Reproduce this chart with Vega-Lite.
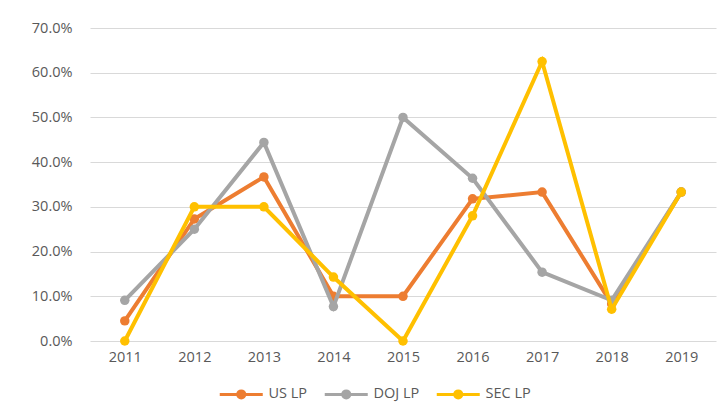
{
  "$schema": "https://vega.github.io/schema/vega-lite/v6.json",
  "autosize": "none",
  "width": 626,
  "height": 313,
  "padding": {"left": 90, "top": 28, "right": 10, "bottom": 73},
  "background": "white",
  "config": {
    "view": {"stroke": null},
    "font": "Open Sans",
    "axis": {"labelColor": "#595959", "labelFontSize": 14.5, "domain": false, "ticks": false, "title": null}
  },
  "data": {"values": [
    {"year": "2011", "series": "US LP", "v": 0.045},
    {"year": "2012", "series": "US LP", "v": 0.273},
    {"year": "2013", "series": "US LP", "v": 0.367},
    {"year": "2014", "series": "US LP", "v": 0.10},
    {"year": "2015", "series": "US LP", "v": 0.10},
    {"year": "2016", "series": "US LP", "v": 0.318},
    {"year": "2017", "series": "US LP", "v": 0.333},
    {"year": "2018", "series": "US LP", "v": 0.083},
    {"year": "2019", "series": "US LP", "v": 0.333},
    {"year": "2011", "series": "DOJ LP", "v": 0.091},
    {"year": "2012", "series": "DOJ LP", "v": 0.25},
    {"year": "2013", "series": "DOJ LP", "v": 0.444},
    {"year": "2014", "series": "DOJ LP", "v": 0.077},
    {"year": "2015", "series": "DOJ LP", "v": 0.50},
    {"year": "2016", "series": "DOJ LP", "v": 0.364},
    {"year": "2017", "series": "DOJ LP", "v": 0.154},
    {"year": "2018", "series": "DOJ LP", "v": 0.091},
    {"year": "2019", "series": "DOJ LP", "v": 0.333},
    {"year": "2011", "series": "SEC LP", "v": 0.0},
    {"year": "2012", "series": "SEC LP", "v": 0.30},
    {"year": "2013", "series": "SEC LP", "v": 0.30},
    {"year": "2014", "series": "SEC LP", "v": 0.143},
    {"year": "2015", "series": "SEC LP", "v": 0.0},
    {"year": "2016", "series": "SEC LP", "v": 0.28},
    {"year": "2017", "series": "SEC LP", "v": 0.625},
    {"year": "2018", "series": "SEC LP", "v": 0.071},
    {"year": "2019", "series": "SEC LP", "v": 0.333}
  ]},
  "encoding": {
    "x": {"field": "year", "type": "ordinal", "scale": {"type": "point", "padding": 0.5},
      "axis": {"labelAngle": 0, "labelPadding": 9, "grid": false}},
    "y": {"field": "v", "type": "quantitative", "scale": {"domain": [0, 0.7], "nice": false},
      "axis": {"format": ".1%", "values": [0, 0.1, 0.2, 0.3, 0.4, 0.5, 0.6, 0.7], "labelOverlap": false, "labelBound": false, "labelFlush": false, "labelPadding": 18, "gridColor": "#D9D9D9", "gridWidth": 1}},
    "color": {"field": "series", "type": "nominal",
      "scale": {"domain": ["US LP", "DOJ LP", "SEC LP"], "range": ["#ED7D31", "#A5A5A5", "#FFC000"]},
      "legend": {"title": null, "orient": "none", "direction": "horizontal", "legendX": 144, "legendY": 359,
        "symbolType": "M-4.3,0H4.3M-0.7,0A0.7,0.7,0,1,0,0.7,0A0.7,0.7,0,1,0,-0.7,0",
        "symbolSize": 100, "symbolStrokeWidth": 3, "labelFontSize": 14.5, "labelColor": "#595959", "labelOffset": 20, "columnPadding": 10}}
  },
  "layer": [
    {"transform": [{"filter": "datum.series === 'US LP'"}],
     "mark": {"type": "line", "strokeWidth": 4, "point": {"filled": true, "size": 90}}},
    {"transform": [{"filter": "datum.series === 'DOJ LP'"}],
     "mark": {"type": "line", "strokeWidth": 4, "point": {"filled": true, "size": 90}}},
    {"transform": [{"filter": "datum.series === 'SEC LP'"}],
     "mark": {"type": "line", "strokeWidth": 4, "point": {"filled": true, "size": 90}}}
  ]
}
